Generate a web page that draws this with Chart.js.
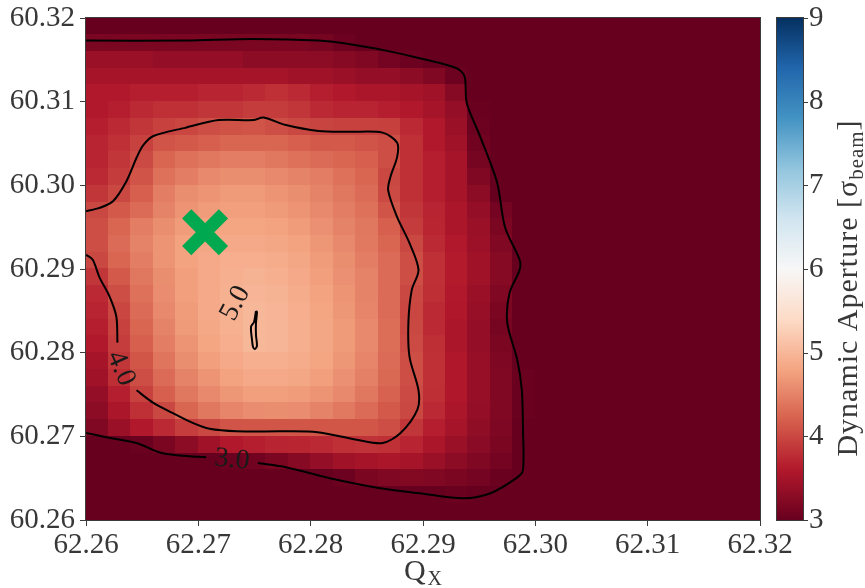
<!DOCTYPE html>
<html>
<head>
<meta charset="utf-8">
<script src="https://cdn.jsdelivr.net/npm/chart.js@4"></script>
<style>
  html, body { margin: 0; padding: 0; background: #fff; }
  canvas { display: block; }
</style>
</head>
<body>
<canvas id="da" width="865" height="588"></canvas>
<script>
// Tune grid: cell centres in Q_X (columns) and Q_Y (rows, top to bottom)
const qx = [62.261, 62.263, 62.265, 62.267, 62.269, 62.271, 62.273, 62.275, 62.277, 62.279,
            62.281, 62.283, 62.285, 62.287, 62.289, 62.291, 62.293, 62.295, 62.297, 62.299,
            62.301, 62.303, 62.305, 62.307, 62.309, 62.311, 62.313, 62.315, 62.317, 62.319];
const qy = [60.319, 60.317, 60.315, 60.313, 60.311, 60.309, 60.307, 60.305, 60.303, 60.301,
            60.299, 60.297, 60.295, 60.293, 60.291, 60.289, 60.287, 60.285, 60.283, 60.281,
            60.279, 60.277, 60.275, 60.273, 60.271, 60.269, 60.267, 60.265, 60.263, 60.261];

// Dynamic aperture in units of sigma_beam, one row per qy entry
const daRows = [
  [3,3,3,3,3,3,3,3,3,3,3,3,3,3,3,3,3,3,3,3,3,3,3,3,3,3,3,3,3,3],
  [3.15,3.15,3.15,3.15,3.15,3.15,3.15,3.15,3.15,3.15,3.12,3.05,3,3,3,3,3,3,3,3,3,3,3,3,3,3,3,3,3,3],
  [3.4,3.4,3.4,3.35,3.35,3.35,3.35,3.3,3.3,3.3,3.3,3.25,3.2,3.1,3.05,3,3,3,3,3,3,3,3,3,3,3,3,3,3,3],
  [3.5,3.5,3.5,3.5,3.5,3.5,3.5,3.5,3.5,3.45,3.45,3.4,3.35,3.35,3.3,3.2,3.05,3,3,3,3,3,3,3,3,3,3,3,3,3],
  [3.6,3.6,3.65,3.65,3.65,3.7,3.7,3.75,3.8,3.75,3.65,3.6,3.55,3.55,3.5,3.45,3.25,3,3,3,3,3,3,3,3,3,3,3,3,3],
  [3.6,3.65,3.75,3.8,3.8,3.85,3.85,3.9,3.9,3.85,3.75,3.7,3.7,3.65,3.6,3.5,3.35,3.02,3,3,3,3,3,3,3,3,3,3,3,3],
  [3.65,3.75,3.85,3.95,3.98,4.05,4.08,4.1,4.05,4.0,3.97,3.95,3.95,3.93,3.75,3.6,3.4,3.05,3,3,3,3,3,3,3,3,3,3,3,3],
  [3.7,3.8,3.95,4.1,4.15,4.2,4.25,4.25,4.25,4.2,4.15,4.15,4.1,4.05,3.8,3.6,3.45,3.08,3,3,3,3,3,3,3,3,3,3,3,3],
  [3.7,3.85,4.02,4.25,4.35,4.4,4.45,4.45,4.4,4.35,4.3,4.25,4.2,4.05,3.8,3.65,3.5,3.12,3,3,3,3,3,3,3,3,3,3,3,3],
  [3.75,3.9,4.1,4.35,4.45,4.55,4.6,4.6,4.55,4.5,4.45,4.35,4.25,4.0,3.8,3.65,3.5,3.2,3,3,3,3,3,3,3,3,3,3,3,3],
  [3.85,4.0,4.2,4.45,4.6,4.65,4.7,4.7,4.65,4.6,4.5,4.4,4.3,4.02,3.8,3.65,3.5,3.3,3,3,3,3,3,3,3,3,3,3,3,3],
  [4.0,4.15,4.3,4.5,4.65,4.72,4.75,4.75,4.7,4.65,4.55,4.45,4.35,4.1,3.85,3.7,3.55,3.35,3.1,3,3,3,3,3,3,3,3,3,3,3],
  [4.05,4.25,4.45,4.6,4.72,4.78,4.8,4.8,4.78,4.72,4.62,4.5,4.4,4.2,3.9,3.72,3.55,3.4,3.15,3,3,3,3,3,3,3,3,3,3,3],
  [4.05,4.3,4.5,4.65,4.78,4.82,4.85,4.85,4.82,4.78,4.68,4.55,4.42,4.25,4.0,3.75,3.6,3.42,3.2,3,3,3,3,3,3,3,3,3,3,3],
  [4.0,4.25,4.45,4.65,4.78,4.85,4.9,4.9,4.88,4.82,4.72,4.6,4.45,4.3,4.05,3.8,3.62,3.45,3.25,3,3,3,3,3,3,3,3,3,3,3],
  [3.85,4.15,4.4,4.6,4.75,4.85,4.92,4.95,4.92,4.85,4.75,4.62,4.5,4.3,4.05,3.8,3.62,3.45,3.25,3,3,3,3,3,3,3,3,3,3,3],
  [3.75,4.05,4.35,4.58,4.75,4.85,4.93,4.97,4.95,4.88,4.78,4.65,4.5,4.3,4.0,3.78,3.6,3.4,3.2,3,3,3,3,3,3,3,3,3,3,3],
  [3.7,3.98,4.3,4.55,4.72,4.85,4.93,5.0,4.97,4.9,4.8,4.68,4.52,4.3,3.98,3.75,3.58,3.38,3.15,3,3,3,3,3,3,3,3,3,3,3],
  [3.65,3.95,4.25,4.5,4.7,4.83,4.93,5.0,4.98,4.92,4.82,4.7,4.55,4.32,4.0,3.75,3.55,3.35,3.12,3,3,3,3,3,3,3,3,3,3,3],
  [3.6,3.92,4.2,4.45,4.65,4.8,4.9,5.0,4.98,4.92,4.82,4.7,4.55,4.32,4.02,3.78,3.55,3.35,3.15,3,3,3,3,3,3,3,3,3,3,3],
  [3.5,3.85,4.12,4.38,4.6,4.75,4.85,4.92,4.92,4.88,4.8,4.68,4.52,4.3,4.05,3.8,3.58,3.38,3.18,3,3,3,3,3,3,3,3,3,3,3],
  [3.45,3.78,4.05,4.3,4.5,4.65,4.78,4.85,4.85,4.82,4.75,4.62,4.48,4.28,4.05,3.8,3.58,3.38,3.2,3.02,3,3,3,3,3,3,3,3,3,3],
  [3.35,3.65,3.95,4.2,4.4,4.55,4.68,4.75,4.75,4.72,4.65,4.55,4.4,4.22,4.02,3.78,3.58,3.38,3.2,3.02,3,3,3,3,3,3,3,3,3,3],
  [3.3,3.55,3.8,4.0,4.25,4.4,4.52,4.58,4.6,4.58,4.5,4.42,4.3,4.15,4.0,3.75,3.55,3.35,3.2,3.02,3,3,3,3,3,3,3,3,3,3],
  [3.2,3.4,3.6,3.75,3.92,4.0,4.1,4.12,4.12,4.12,4.12,4.12,4.12,4.05,3.85,3.65,3.5,3.32,3.18,3,3,3,3,3,3,3,3,3,3,3],
  [3,3,3.02,3.15,3.3,3.45,3.6,3.65,3.7,3.72,3.75,3.8,3.82,3.8,3.7,3.55,3.4,3.28,3.15,3,3,3,3,3,3,3,3,3,3,3],
  [3,3,3,3,3,3,3.02,3.08,3.15,3.25,3.35,3.45,3.5,3.55,3.5,3.4,3.3,3.2,3.1,3,3,3,3,3,3,3,3,3,3,3],
  [3,3,3,3,3,3,3,3,3,3,3,3.05,3.15,3.2,3.22,3.2,3.15,3.1,3.02,3,3,3,3,3,3,3,3,3,3,3],
  [3,3,3,3,3,3,3,3,3,3,3,3,3,3,3,3,3.02,3,3,3,3,3,3,3,3,3,3,3,3,3],
  [3,3,3,3,3,3,3,3,3,3,3,3,3,3,3,3,3,3,3,3,3,3,3,3,3,3,3,3,3,3]
];

// Axis ticks
const xTicks = [62.26, 62.27, 62.28, 62.29, 62.30, 62.31, 62.32];
const yTicks = [60.26, 60.27, 60.28, 60.29, 60.30, 60.31, 60.32];
const cbTicks = [3, 4, 5, 6, 7, 8, 9];

// Iso-DA lines (Q_X, Q_Y); a null point leaves room for the inline label
const contour3 = [
  [62.2600,60.2704],[62.2618,60.2699],[62.2645,60.2692],[62.2665,60.2681],[62.2683,60.2677],[62.2707,60.2675],
  [null,null],
  [62.2753,60.2668],[62.2778,60.2663],[62.2817,60.2650],[62.2862,60.2638],[62.2897,60.2632],[62.2936,60.2626],
  [62.2960,60.2632],[62.2984,60.2651],[62.2989,60.2660],[62.2989,60.2708],[62.2988,60.2755],[62.2984,60.2791],
  [62.2975,60.2836],[62.2977,60.2871],[62.2986,60.2899],[62.2986,60.2911],[62.2973,60.2950],[62.2966,60.3003],
  [62.2951,60.3058],[62.2939,60.3098],[62.2937,60.3130],[62.2930,60.3140],[62.2897,60.3152],[62.2867,60.3161],
  [62.2838,60.3168],[62.2807,60.3173],[62.2749,60.3175],[62.2689,60.3173],[62.2600,60.3173]
];
const contour4 = [
  [62.2600,60.2969],[62.2612,60.2973],[62.2624,60.2981],[62.2636,60.3005],[62.2645,60.3033],[62.2651,60.3048],
  [62.2660,60.3059],[62.2689,60.3069],[62.2718,60.3078],[62.2749,60.3078],[62.2758,60.3081],[62.2778,60.3072],
  [62.2807,60.3065],[62.2835,60.3064],[62.2864,60.3063],[62.2877,60.3051],[62.2877,60.3034],[62.2871,60.3010],
  [62.2869,60.2994],[62.2877,60.2962],[62.2888,60.2931],[62.2896,60.2899],[62.2890,60.2875],[62.2887,60.2836],
  [62.2888,60.2795],[62.2896,60.2755],[62.2895,60.2732],[62.2880,60.2704],[62.2864,60.2692],[62.2841,60.2696],
  [62.2806,60.2705],[62.2775,60.2706],[62.2734,60.2706],[62.2710,60.2709],[62.2695,60.2716],[62.2677,60.2728],
  [62.2660,60.2740],[62.2645,60.2755],
  [null,null],
  [62.2628,60.2812],[62.2627,60.2843],[62.2621,60.2867],[62.2612,60.2890],[62.2606,60.2911],[62.2600,60.2917]
];
const contour5 = [
  [62.27513,60.28498],[62.27496,60.28367],[62.27469,60.28307],[62.27478,60.28151],[62.27487,60.28068],
  [62.27504,60.28044],[62.27522,60.28080],[62.27513,60.28211],[62.27513,60.28355],[62.27522,60.28486],[62.27513,60.28498]
];

// Inline contour labels: text, anchor (Q_X, Q_Y), rotation in degrees
const contourLabels = [
  { text: '3.0', at: [62.2730, 60.2672], angle: 6 },
  { text: '4.0', at: [62.2631, 60.2781], angle: 66 },
  { text: '5.0', at: [62.2733, 60.2859], angle: -62 }
];

// Nominal working point
const workingPoint = [{ x: 62.2706, y: 60.2944 }];

// RdBu colour map, 3 → 9 sigma
const RDBU = [[103,0,31],[178,24,43],[214,96,77],[244,165,130],[253,219,199],[247,247,247],
              [209,229,240],[146,197,222],[67,147,195],[33,102,172],[5,48,97]];
const DA_MIN = 3, DA_MAX = 9;
function rdbu(v) {
  let t = (v - DA_MIN) / (DA_MAX - DA_MIN);
  t = Math.max(0, Math.min(1, t));
  const p = t * 10, i = Math.min(9, Math.floor(p)), f = p - i;
  const a = RDBU[i], b = RDBU[i + 1];
  return 'rgb(' + [0,1,2].map(k => Math.round(a[k] + (b[k] - a[k]) * f)).join(',') + ')';
}

const SERIF = "'Liberation Serif', 'DejaVu Serif', serif";
const TEXT = '#383838';
Chart.defaults.font.family = SERIF;
Chart.defaults.font.size = 29;
Chart.defaults.color = TEXT;

const toPts = arr => arr.map(p => ({ x: p[0], y: p[1] }));
const noEdgePadding = s => { s.paddingTop = 0; s.paddingBottom = 0; };

// Cells of the DA map, painted under the iso-lines
const heatmap = {
  id: 'heatmap',
  beforeDatasetsDraw(chart) {
    const { ctx, chartArea: a } = chart;
    const xs = chart.scales.x, ys = chart.scales.y;
    const hx = Math.abs(qx[1] - qx[0]) / 2, hy = Math.abs(qy[1] - qy[0]) / 2;
    ctx.save();
    ctx.beginPath(); ctx.rect(a.left, a.top, a.width, a.height); ctx.clip();
    daRows.forEach((row, r) => row.forEach((v, c) => {
      const x0 = Math.floor(xs.getPixelForValue(qx[c] - hx));
      const x1 = Math.ceil(xs.getPixelForValue(qx[c] + hx));
      const y0 = Math.floor(ys.getPixelForValue(qy[r] + hy));
      const y1 = Math.ceil(ys.getPixelForValue(qy[r] - hy));
      ctx.fillStyle = rdbu(v);
      ctx.fillRect(x0, y0, x1 - x0, y1 - y0);
    }));
    ctx.restore();
  },
  afterDatasetsDraw(chart) {
    const { ctx, chartArea: a } = chart;
    const xs = chart.scales.x, ys = chart.scales.y;
    // inline level labels
    ctx.save();
    ctx.fillStyle = '#1a1a1a';
    ctx.font = '28px ' + SERIF;
    ctx.textAlign = 'center';
    ctx.textBaseline = 'middle';
    contourLabels.forEach(l => {
      ctx.save();
      ctx.translate(xs.getPixelForValue(l.at[0]), ys.getPixelForValue(l.at[1]));
      ctx.rotate(l.angle * Math.PI / 180);
      ctx.fillText(l.text, 0, 0);
      ctx.restore();
    });
    // axes frame
    ctx.strokeStyle = '#3c3c3c';
    ctx.lineWidth = 1;
    ctx.strokeRect(a.left - 0.5, a.top - 0.5, a.width + 1, a.height + 1);
    ctx.restore();
  },
  afterDraw(chart) {
    const { ctx, chartArea: a } = chart;
    const cb = chart.scales.cb;
    // colour bar
    const left = a.right + 17, w = 26;
    const top = cb.getPixelForValue(DA_MAX), bot = cb.getPixelForValue(DA_MIN);
    const g = ctx.createLinearGradient(0, bot, 0, top);
    RDBU.forEach((c, i) => g.addColorStop(i / 10, 'rgb(' + c.join(',') + ')'));
    ctx.save();
    ctx.fillStyle = g;
    ctx.fillRect(left, top, w, bot - top);
    ctx.strokeStyle = '#3c3c3c';
    ctx.lineWidth = 1;
    ctx.strokeRect(left - 0.5, top - 0.5, w + 1, bot - top + 1);
    ctx.beginPath();
    cbTicks.forEach(v => {
      const py = Math.round(cb.getPixelForValue(v)) + 0.5;
      ctx.moveTo(left + w, py); ctx.lineTo(left + w + 5, py);
    });
    ctx.stroke();

    // colour-bar tick labels
    ctx.fillStyle = TEXT;
    ctx.font = '29px ' + SERIF;
    ctx.textAlign = 'left';
    ctx.textBaseline = 'middle';
    cbTicks.forEach(v => ctx.fillText(String(v), left + w + 6, cb.getPixelForValue(v)));

    // colour-bar title: Dynamic Aperture [σ_beam]
    ctx.textBaseline = 'alphabetic';
    ctx.letterSpacing = '1px';
    const big = '30px ' + SERIF, small = '21px ' + SERIF;
    const parts = [['Dynamic Aperture [', big, 0], ['\u03C3', big, 0], ['beam', small, 6], [']', big, 0]];
    let total = 0;
    parts.forEach(p => { ctx.font = p[1]; total += ctx.measureText(p[0]).width; });
    ctx.save();
    ctx.translate(857, 288);
    ctx.rotate(-Math.PI / 2);
    let cx = -total / 2;
    parts.forEach(p => {
      ctx.font = p[1];
      ctx.fillText(p[0], cx, p[2]);
      cx += ctx.measureText(p[0]).width;
    });
    ctx.restore();
    ctx.letterSpacing = '0px';

    // x-axis title: Q_X
    const xc = (a.left + a.right) / 2;
    ctx.font = '30px ' + SERIF;
    const qw = ctx.measureText('Q').width;
    ctx.font = '20px ' + SERIF;
    const sw = ctx.measureText('X').width;
    const sx = xc - (qw + sw + 2) / 2;
    ctx.font = '30px ' + SERIF;
    ctx.fillText('Q', sx, 580);
    ctx.font = '20px ' + SERIF;
    ctx.fillText('X', sx + qw + 2, 585);
    ctx.restore();
  }
};

const lineStyle = {
  showLine: true, pointRadius: 0, borderColor: '#000', borderWidth: 2,
  tension: 0.3, spanGaps: false, yAxisID: 'y', xAxisID: 'x', borderJoinStyle: 'round'
};

new Chart(document.getElementById('da'), {
  type: 'scatter',
  data: {
    datasets: [
      Object.assign({ label: 'DA = 3.0', data: toPts(contour3) }, lineStyle),
      Object.assign({ label: 'DA = 4.0', data: toPts(contour4) }, lineStyle),
      Object.assign({ label: 'DA = 5.0', data: toPts(contour5) }, lineStyle),
      {
        label: 'working point', data: workingPoint, yAxisID: 'y', xAxisID: 'x',
        pointStyle: 'crossRot', pointRadius: 26, borderWidth: 13,
        borderColor: '#00a94f', backgroundColor: '#00a94f', showLine: false
      }
    ]
  },
  options: {
    responsive: false,
    animation: false,
    layout: { autoPadding: false, padding: { top: 18, left: 0, right: 0, bottom: 0 } },
    plugins: { legend: { display: false }, tooltip: { enabled: false } },
    scales: {
      x: {
        type: 'linear', position: 'bottom', min: 62.26, max: 62.32,
        afterBuildTicks: s => { s.ticks = xTicks.map(v => ({ value: v })); },
        afterFit: s => { s.height = 68; },
        ticks: { callback: v => v.toFixed(2), padding: 2, maxRotation: 0, autoSkip: false, color: TEXT },
        grid: { drawOnChartArea: false, drawTicks: true, tickLength: 6, color: '#3c3c3c' },
        border: { display: false }
      },
      y: {
        type: 'linear', position: 'left', min: 60.26, max: 60.32,
        afterBuildTicks: s => { s.ticks = yTicks.map(v => ({ value: v })); },
        afterFit: s => { s.width = 86; noEdgePadding(s); },
        ticks: { callback: v => v.toFixed(2), padding: 5, autoSkip: false, color: TEXT },
        grid: { drawOnChartArea: false, drawTicks: true, tickLength: 6, color: '#3c3c3c' },
        border: { display: false }
      },
      cb: {
        type: 'linear', position: 'right', axis: 'y', min: DA_MIN, max: DA_MAX,
        afterBuildTicks: s => { s.ticks = cbTicks.map(v => ({ value: v })); },
        afterFit: s => { s.width = 105; noEdgePadding(s); },
        ticks: { display: false },
        grid: { display: false, drawTicks: false },
        border: { display: false }
      }
    }
  },
  plugins: [heatmap]
});
</script>
</body>
</html>
